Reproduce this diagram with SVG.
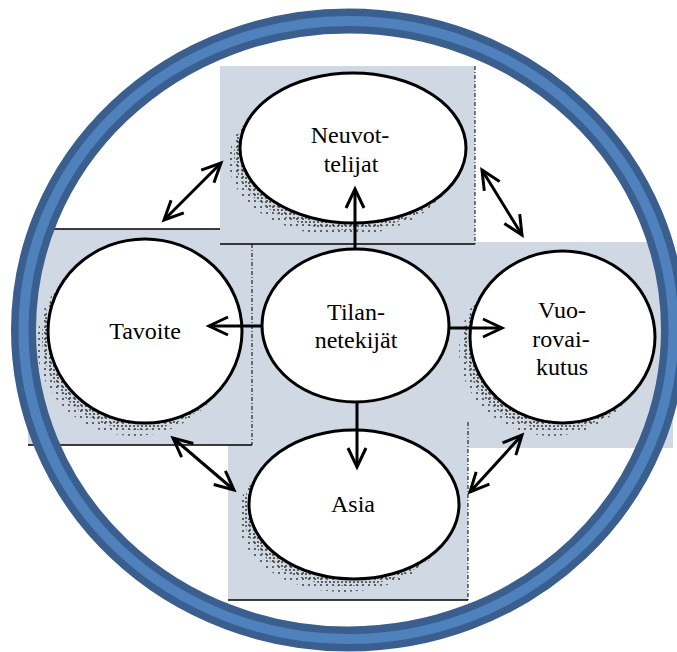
<svg xmlns="http://www.w3.org/2000/svg" width="677" height="652" viewBox="0 0 677 652">
<style>
.panel{fill:#D0D8E4}
.edge{stroke:#000;stroke-width:1.3;fill:none}
.dash{stroke:#000;stroke-width:1;fill:none;stroke-dasharray:4 2 1 2}
.node{fill:#fff;stroke:#000;stroke-width:3}
.sh1{fill:url(#dots)}
.sh2{fill:url(#dots2)}
.label{font-family:"Liberation Serif","Times New Roman",serif;font-size:24px;fill:#000;text-anchor:middle}
.conn{stroke:#000;stroke-width:3;fill:none;marker-end:url(#ah)}
.dbl{marker-start:url(#ah)}
.ringDark{fill:none;stroke:#3A5F8E;stroke-width:25}
.ringLight{fill:none;stroke:#4F81BD;stroke-width:10}
</style>
<defs>
<pattern id="dots" patternUnits="userSpaceOnUse" width="4" height="4"><circle cx="2" cy="2" r="1.1" fill="#444"/></pattern>
<pattern id="dots2" patternUnits="userSpaceOnUse" width="6" height="6"><circle cx="3" cy="3" r="1.1" fill="#444"/></pattern>
<marker id="ah" markerUnits="userSpaceOnUse" viewBox="-24 -14 30 28" markerWidth="30" markerHeight="28" refX="0" refY="0" orient="auto-start-reverse"><path d="M-19 -9 L0 0 L-19 9" fill="none" stroke="#000" stroke-width="3"/></marker>
</defs>

<g id="panels">
<rect class="panel" x="220" y="66" width="255" height="178"/>
<rect class="panel" x="28" y="229" width="224" height="216"/>
<rect class="panel" x="252" y="244" width="216" height="186"/>
<rect class="panel" x="468" y="242" width="205" height="206"/>
<rect class="panel" x="228" y="422" width="240" height="178"/>
<path class="edge" d="M52 229 H220 M220 244 H475 M28 445 H252 M228 600 H468"/>
<path class="dash" d="M475 66 V244 M252 244 V445 M468 422 V600"/>
</g>

<g id="ring">
<ellipse class="ringDark" cx="348.5" cy="330" rx="325" ry="309"/>
<ellipse class="ringLight" cx="348.5" cy="330" rx="325" ry="309"/>
</g>

<g id="node-neuvottelijat">
<ellipse class="sh2" cx="342" cy="161" rx="113" ry="75"/>
<ellipse class="sh1" cx="347" cy="155" rx="113" ry="75"/>
<ellipse class="node" cx="353" cy="148" rx="113" ry="75"/>
<text class="label" x="350" y="143">Neuvot-</text>
<text class="label" x="351" y="172">telijat</text>
</g>

<g id="node-tavoite">
<ellipse class="sh2" cx="134" cy="344" rx="97" ry="92"/>
<ellipse class="sh1" cx="139" cy="338" rx="97" ry="92"/>
<ellipse class="node" cx="145" cy="331" rx="97" ry="92"/>
<text class="label" x="145" y="339">Tavoite</text>
</g>

<g id="node-tilannetekijat">
<ellipse class="node" cx="355.5" cy="325.5" rx="93.5" ry="76.5"/>
<text class="label" x="356" y="320">Tilan-</text>
<text class="label" x="356" y="348">netekijät</text>
</g>

<g id="node-vuorovaikutus">
<ellipse class="sh2" cx="551.5" cy="350" rx="92.5" ry="86"/>
<ellipse class="sh1" cx="556.5" cy="344" rx="92.5" ry="86"/>
<ellipse class="node" cx="562.5" cy="337" rx="92.5" ry="86"/>
<text class="label" x="562" y="318">Vuo-</text>
<text class="label" x="561" y="347">rovai-</text>
<text class="label" x="562" y="375">kutus</text>
</g>

<g id="node-asia">
<ellipse class="sh2" cx="343" cy="517.5" rx="105" ry="74.5"/>
<ellipse class="sh1" cx="348" cy="511.5" rx="105" ry="74.5"/>
<ellipse class="node" cx="354" cy="504.5" rx="105" ry="74.5"/>
<text class="label" x="353" y="512">Asia</text>
</g>

<g id="connectors">
<path class="conn" d="M355 249 V189"/>
<path class="conn" d="M262 326 H209"/>
<path class="conn" d="M449 328 H502"/>
<path class="conn" d="M357 402 V467"/>
<path class="conn dbl" d="M164 220 L221 163"/>
<path class="conn dbl" d="M482 170 L522 235"/>
<path class="conn dbl" d="M173 438 L234 490"/>
<path class="conn dbl" d="M522 435 L470 492"/>
</g>
</svg>
